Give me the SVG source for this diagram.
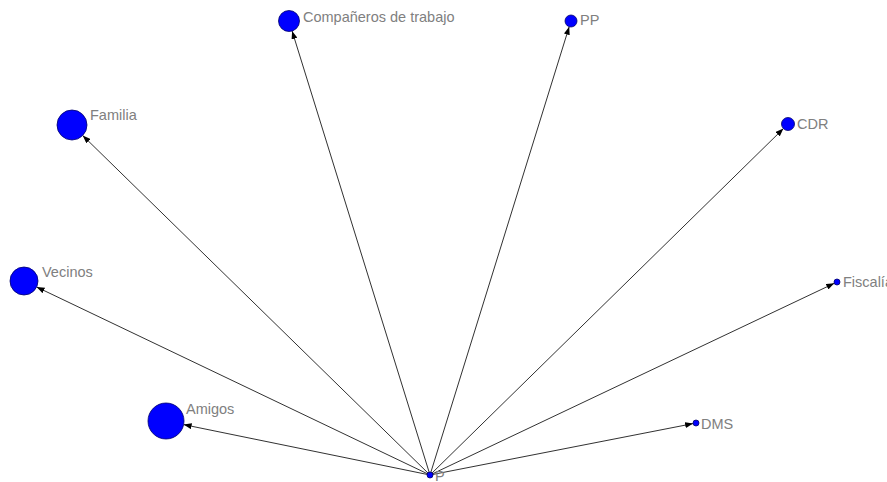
<svg xmlns="http://www.w3.org/2000/svg" width="887" height="482" viewBox="0 0 887 482">
  <style>
    .edge { stroke: #1a1a1a; stroke-width: 0.9; fill: none; marker-end: url(#arrow); }
    .node { fill: #0000ff; stroke: #00006b; stroke-width: 0.8; }
    .lbl { font-family: "Liberation Sans", Arial, sans-serif; font-size: 14.5px; fill: #808080; }
  </style>
  <defs>
    <marker id="arrow" markerUnits="userSpaceOnUse" markerWidth="8" markerHeight="6" refX="8" refY="3" orient="auto">
      <path d="M0,0 L8,3 L0,6 z" fill="#000"/>
    </marker>
  </defs>
  <rect width="887" height="482" fill="#fff"/>

  <!-- ties from the ego node P -->
  <g id="edges">
    <line class="edge" x1="430" y1="475" x2="292.1" y2="31.0"/>
    <line class="edge" x1="430" y1="475" x2="569.2" y2="26.7"/>
    <line class="edge" x1="430" y1="475" x2="82.7" y2="135.5"/>
    <line class="edge" x1="430" y1="475" x2="36.6" y2="287.0"/>
    <line class="edge" x1="430" y1="475" x2="183.6" y2="424.6"/>
    <line class="edge" x1="430" y1="475" x2="783.4" y2="128.6"/>
    <line class="edge" x1="430" y1="475" x2="834.3" y2="283.3"/>
    <line class="edge" x1="430" y1="475" x2="693.1" y2="423.6"/>
  </g>

  <g id="companeros">
    <circle class="node" cx="289" cy="21" r="10.5"/>
    <text class="lbl" x="303" y="22">Compañeros de trabajo</text>
  </g>
  <g id="pp">
    <circle class="node" cx="571" cy="21" r="6"/>
    <text class="lbl" x="580" y="25">PP</text>
  </g>
  <g id="familia">
    <circle class="node" cx="72" cy="125" r="15"/>
    <text class="lbl" x="90" y="120">Familia</text>
  </g>
  <g id="vecinos">
    <circle class="node" cx="24" cy="281" r="14"/>
    <text class="lbl" x="42" y="277">Vecinos</text>
  </g>
  <g id="amigos">
    <circle class="node" cx="166" cy="421" r="18"/>
    <text class="lbl" x="186" y="414">Amigos</text>
  </g>
  <g id="cdr">
    <circle class="node" cx="788" cy="124" r="6.5"/>
    <text class="lbl" x="797" y="129">CDR</text>
  </g>
  <g id="fiscalia">
    <circle class="node" cx="837" cy="282" r="3"/>
    <text class="lbl" x="843" y="287">Fiscalía</text>
  </g>
  <g id="dms">
    <circle class="node" cx="696" cy="423" r="3"/>
    <text class="lbl" x="701" y="429">DMS</text>
  </g>
  <g id="p">
    <circle class="node" cx="430" cy="475" r="3"/>
    <text class="lbl" x="435" y="481">P</text>
  </g>
</svg>
